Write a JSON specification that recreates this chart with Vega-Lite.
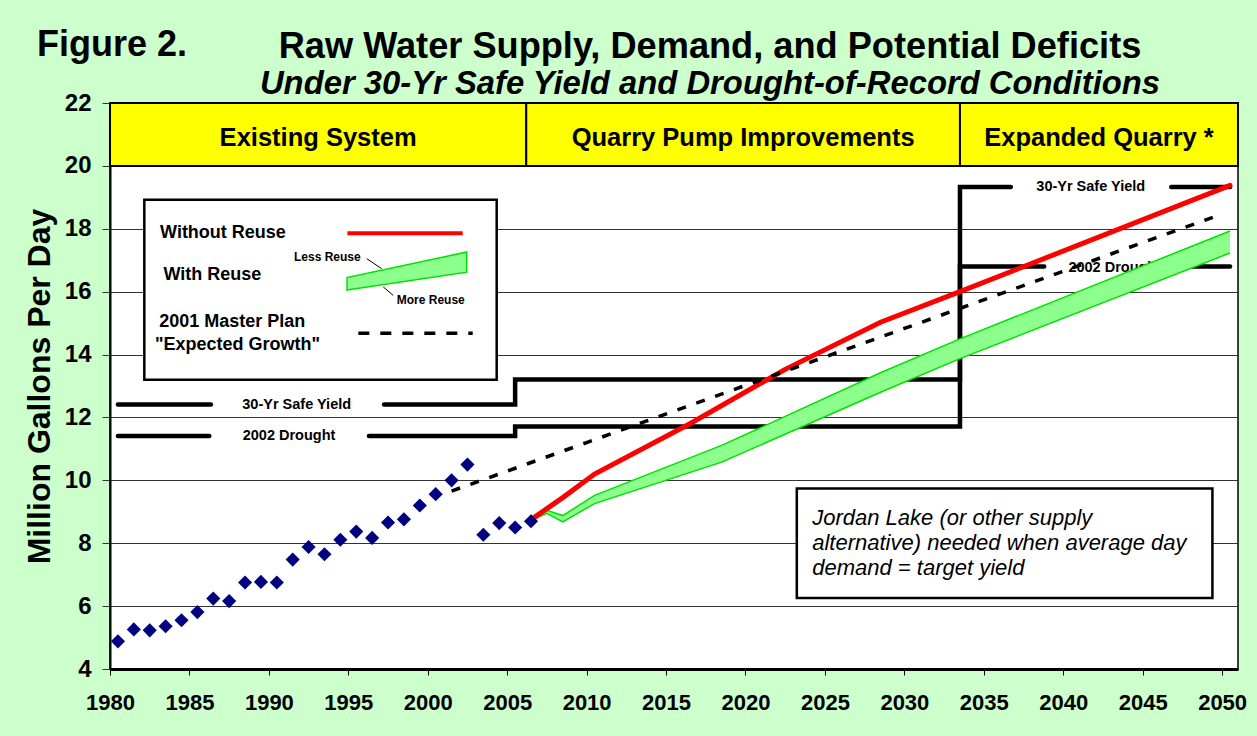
{
  "$schema": "https://vega.github.io/schema/vega-lite/v6.json",
  "width": 1128,
  "height": 566,
  "autosize": "none",
  "padding": {"left": 110, "top": 103, "right": 19, "bottom": 67},
  "background": "#CCFFCC",
  "config": {
    "font": "Liberation Sans",
    "view": {"fill": "white", "stroke": "black", "strokeWidth": 1.5}
  },
  "title": {
    "text": "Raw Water Supply, Demand, and Potential Deficits",
    "subtitle": "Under 30-Yr Safe Yield and Drought-of-Record Conditions",
    "anchor": "middle",
    "frame": "group",
    "dx": 36,
    "offset": -74,
    "font": "Liberation Sans",
    "fontSize": 36.2,
    "fontWeight": "bold",
    "color": "black",
    "subtitleFont": "Liberation Sans",
    "subtitleFontSize": 32.8,
    "subtitleFontWeight": "bold",
    "subtitleFontStyle": "italic",
    "subtitleColor": "black",
    "subtitlePadding": 3
  },
  "datasets": {
    "phases": [
      {"phase": "Existing System", "start": 1980, "end": 2006.2, "mid": 1993.1},
      {"phase": "Quarry Pump Improvements", "start": 2006.2, "end": 2033.5, "mid": 2019.85},
      {"phase": "Expanded Quarry *", "start": 2033.5, "end": 2051, "mid": 2042.25}
    ],
    "steps": [
      {"seg": "sy1", "i": 1, "year": 1980.5, "mgd": 12.41},
      {"seg": "sy1", "i": 2, "year": 1986.35, "mgd": 12.41},
      {"seg": "sy2", "i": 1, "year": 1997.25, "mgd": 12.41},
      {"seg": "sy2", "i": 2, "year": 2005.5, "mgd": 12.41},
      {"seg": "sy2", "i": 3, "year": 2005.5, "mgd": 13.21},
      {"seg": "sy2", "i": 4, "year": 2033.5, "mgd": 13.21},
      {"seg": "sy2", "i": 5, "year": 2033.5, "mgd": 19.33},
      {"seg": "sy2", "i": 6, "year": 2036.7, "mgd": 19.33},
      {"seg": "sy3", "i": 1, "year": 2046.8, "mgd": 19.33},
      {"seg": "sy3", "i": 2, "year": 2050.5, "mgd": 19.33},
      {"seg": "dr1", "i": 1, "year": 1980.5, "mgd": 11.41},
      {"seg": "dr1", "i": 2, "year": 1986.25, "mgd": 11.41},
      {"seg": "dr2", "i": 1, "year": 1996.3, "mgd": 11.41},
      {"seg": "dr2", "i": 2, "year": 2005.5, "mgd": 11.41},
      {"seg": "dr2", "i": 3, "year": 2005.5, "mgd": 11.71},
      {"seg": "dr2", "i": 4, "year": 2033.5, "mgd": 11.71},
      {"seg": "dr2", "i": 5, "year": 2033.5, "mgd": 16.8},
      {"seg": "dr2", "i": 6, "year": 2038.8, "mgd": 16.8},
      {"seg": "dr3", "i": 1, "year": 2048.1, "mgd": 16.8},
      {"seg": "dr3", "i": 2, "year": 2050.5, "mgd": 16.8}
    ],
    "steplabels": [
      {"label": "30-Yr Safe Yield", "year": 1991.75, "mgd": 12.41},
      {"label": "2002 Drought", "year": 1991.27, "mgd": 11.41},
      {"label": "30-Yr Safe Yield", "year": 2041.73, "mgd": 19.33},
      {"label": "2002 Drought", "year": 2043.24, "mgd": 16.75}
    ],
    "withreuse": [
      {"year": 2006.5, "more": 8.72, "less": 8.72},
      {"year": 2007.5, "more": 8.95, "less": 9.05},
      {"year": 2008.5, "more": 8.68, "less": 8.88},
      {"year": 2010.5, "more": 9.26, "less": 9.52},
      {"year": 2018.5, "more": 10.58, "less": 11.11},
      {"year": 2028.5, "more": 12.8, "less": 13.42},
      {"year": 2033.5, "more": 13.87, "less": 14.5},
      {"year": 2050.5, "more": 17.23, "less": 17.93}
    ],
    "without": [
      {"year": 2006.5, "mgd": 8.75},
      {"year": 2007.5, "mgd": 9.1},
      {"year": 2008.5, "mgd": 9.45},
      {"year": 2010.5, "mgd": 10.2},
      {"year": 2016.5, "mgd": 11.8},
      {"year": 2022.5, "mgd": 13.53},
      {"year": 2028.5, "mgd": 15.03},
      {"year": 2033.5, "mgd": 16.0},
      {"year": 2050.5, "mgd": 19.38}
    ],
    "plan": [
      {"year": 2001.5, "mgd": 9.66},
      {"year": 2010, "mgd": 11.2},
      {"year": 2020, "mgd": 13.02},
      {"year": 2030, "mgd": 14.83},
      {"year": 2040, "mgd": 16.65},
      {"year": 2050, "mgd": 18.47}
    ],
    "history": [
      {"year": 1980.5, "mgd": 4.88},
      {"year": 1981.5, "mgd": 5.26},
      {"year": 1982.5, "mgd": 5.23},
      {"year": 1983.5, "mgd": 5.36},
      {"year": 1984.5, "mgd": 5.55},
      {"year": 1985.5, "mgd": 5.81},
      {"year": 1986.5, "mgd": 6.24},
      {"year": 1987.5, "mgd": 6.16},
      {"year": 1988.5, "mgd": 6.75},
      {"year": 1989.5, "mgd": 6.77},
      {"year": 1990.5, "mgd": 6.75},
      {"year": 1991.5, "mgd": 7.48},
      {"year": 1992.5, "mgd": 7.88},
      {"year": 1993.5, "mgd": 7.65},
      {"year": 1994.5, "mgd": 8.11},
      {"year": 1995.5, "mgd": 8.37},
      {"year": 1996.5, "mgd": 8.17},
      {"year": 1997.5, "mgd": 8.66},
      {"year": 1998.5, "mgd": 8.76},
      {"year": 1999.5, "mgd": 9.2},
      {"year": 2000.5, "mgd": 9.56},
      {"year": 2001.5, "mgd": 10.0},
      {"year": 2002.5, "mgd": 10.5},
      {"year": 2003.5, "mgd": 8.27},
      {"year": 2004.5, "mgd": 8.64},
      {"year": 2005.5, "mgd": 8.5},
      {"year": 2006.5, "mgd": 8.7}
    ],
    "legendbox": [{"year": 1982.16, "year2": 2004.34, "mgd": 18.925, "mgd2": 13.2}],
    "legendlabels": [
      {"label": "Without Reuse", "year": 1983.15, "mgd": 17.86},
      {"label": "With Reuse", "year": 1983.36, "mgd": 16.52},
      {"label": "2001 Master Plan", "year": 1983.1, "mgd": 15.03},
      {"label": "\"Expected Growth\"", "year": 1982.83, "mgd": 14.29}
    ],
    "legendsmall": [
      {"label": "Less Reuse", "year": 1991.58, "mgd": 17.1},
      {"label": "More Reuse", "year": 1998.05, "mgd": 15.75}
    ],
    "legendred": [{"year": 1994.94, "mgd": 17.86}, {"year": 2002.2, "mgd": 17.86}],
    "legenddash": [{"year": 1995.63, "mgd": 14.68}, {"year": 2002.83, "mgd": 14.68}],
    "legendgreen": [
      {"year": 1994.92, "more": 16.05, "less": 16.45},
      {"year": 2002.45, "more": 16.62, "less": 17.26}
    ],
    "leaders": [
      {"year": 1996.16, "mgd": 17.05, "year2": 1997.1, "mgd2": 16.73},
      {"year": 1997.2, "mgd": 16.15, "year2": 1997.83, "mgd2": 15.88}
    ],
    "notebox": [{"year": 2023.23, "year2": 2049.39, "mgd": 9.74, "mgd2": 6.26}],
    "note": [{"label": "Jordan Lake (or other supply\nalternative) needed when average day\ndemand = target yield", "year": 2024.2, "mgd": 8.79}],
    "figlabel": [{"label": "Figure 2.", "year": 1975.4, "mgd": 23.86}]
  },
  "layer": [
    {
      "data": {"name": "phases"},
      "mark": {"type": "rect", "fill": "#FFFF00", "stroke": "black", "strokeWidth": 2},
      "encoding": {
        "x": {"field": "start", "type": "quantitative", "scale": {"domain": [1980, 2051], "nice": false, "zero": false}},
        "x2": {"field": "end"},
        "y": {"datum": 20, "type": "quantitative", "scale": {"domain": [4, 22], "nice": false, "zero": false}},
        "y2": {"datum": 22}
      }
    },
    {
      "data": {"name": "phases"},
      "mark": {"type": "text", "fontSize": 25.5, "fontWeight": "bold", "color": "black", "align": "center", "baseline": "middle"},
      "encoding": {
        "x": {"field": "mid", "type": "quantitative"},
        "y": {"datum": 20.9, "type": "quantitative"},
        "text": {"field": "phase"}
      }
    },
    {
      "data": {"name": "steps"},
      "mark": {"type": "line", "color": "black", "strokeWidth": 4.5, "strokeCap": "round"},
      "encoding": {
        "x": {"field": "year", "type": "quantitative"},
        "y": {"field": "mgd", "type": "quantitative"},
        "detail": {"field": "seg"},
        "order": {"field": "i"}
      }
    },
    {
      "data": {"name": "steplabels"},
      "mark": {"type": "text", "fontSize": 14.5, "fontWeight": "bold", "color": "black", "align": "center", "baseline": "middle"},
      "encoding": {
        "x": {"field": "year", "type": "quantitative"},
        "y": {"field": "mgd", "type": "quantitative"},
        "text": {"field": "label"}
      }
    },
    {
      "data": {"name": "withreuse"},
      "mark": {"type": "area", "color": "#8CFF8C", "opacity": 1},
      "encoding": {
        "x": {"field": "year", "type": "quantitative"},
        "y": {"field": "more", "type": "quantitative"},
        "y2": {"field": "less"}
      }
    },
    {
      "data": {"name": "withreuse"},
      "mark": {"type": "line", "color": "#00E000", "strokeWidth": 1.5},
      "encoding": {
        "x": {"field": "year", "type": "quantitative"},
        "y": {"field": "more", "type": "quantitative"}
      }
    },
    {
      "data": {"name": "withreuse"},
      "mark": {"type": "line", "color": "#00E000", "strokeWidth": 1.5},
      "encoding": {
        "x": {"field": "year", "type": "quantitative"},
        "y": {"field": "less", "type": "quantitative"}
      }
    },
    {
      "data": {"name": "without"},
      "mark": {"type": "line", "color": "#FF0000", "strokeWidth": 5, "strokeCap": "round"},
      "encoding": {
        "x": {"field": "year", "type": "quantitative"},
        "y": {"field": "mgd", "type": "quantitative"}
      }
    },
    {
      "data": {"name": "plan"},
      "mark": {"type": "line", "color": "black", "strokeWidth": 3.5, "strokeDash": [9, 11]},
      "encoding": {
        "x": {"field": "year", "type": "quantitative"},
        "y": {"field": "mgd", "type": "quantitative"}
      }
    },
    {
      "data": {"name": "history"},
      "mark": {"type": "point", "shape": "diamond", "filled": true, "color": "#000080", "size": 200, "opacity": 1},
      "encoding": {
        "x": {
          "field": "year", "type": "quantitative",
          "scale": {"domain": [1980, 2051], "nice": false, "zero": false},
          "axis": {
            "values": [1980, 1985, 1990, 1995, 2000, 2005, 2010, 2015, 2020, 2025, 2030, 2035, 2040, 2045, 2050],
            "format": "d",
            "title": null,
            "grid": false,
            "labelFont": "Liberation Sans",
            "labelFontSize": 22,
            "labelFontWeight": "bold",
            "labelColor": "black",
            "labelFlush": false,
            "labelOverlap": false,
            "labelPadding": 17,
            "tickSize": 6,
            "tickColor": "black",
            "domainColor": "black",
            "domainWidth": 3
          }
        },
        "y": {
          "field": "mgd", "type": "quantitative",
          "scale": {"domain": [4, 22], "nice": false, "zero": false},
          "axis": {
            "values": [4, 6, 8, 10, 12, 14, 16, 18, 20, 22],
            "title": "Million Gallons Per Day",
            "titleFont": "Liberation Sans",
            "titleFontSize": 32,
            "titleFontWeight": "bold",
            "titleColor": "black",
            "titlePadding": 8,
            "grid": true,
            "gridColor": "#333333",
            "gridWidth": 1,
            "labelFont": "Liberation Sans",
            "labelFontSize": 24,
            "labelFontWeight": "bold",
            "labelColor": "black",
            "labelPadding": 11,
            "labelOverlap": false,
            "tickSize": 8,
            "tickColor": "#333333",
            "domainColor": "black",
            "domainWidth": 2
          }
        }
      }
    },
    {
      "data": {"name": "legendbox"},
      "mark": {"type": "rect", "fill": "white", "stroke": "black", "strokeWidth": 2.5},
      "encoding": {
        "x": {"field": "year", "type": "quantitative"},
        "x2": {"field": "year2"},
        "y": {"field": "mgd", "type": "quantitative"},
        "y2": {"field": "mgd2"}
      }
    },
    {
      "data": {"name": "legendlabels"},
      "mark": {"type": "text", "fontSize": 18, "fontWeight": "bold", "color": "black", "align": "left", "baseline": "middle"},
      "encoding": {
        "x": {"field": "year", "type": "quantitative"},
        "y": {"field": "mgd", "type": "quantitative"},
        "text": {"field": "label"}
      }
    },
    {
      "data": {"name": "legendsmall"},
      "mark": {"type": "text", "fontSize": 12, "fontWeight": "bold", "color": "black", "align": "left", "baseline": "middle"},
      "encoding": {
        "x": {"field": "year", "type": "quantitative"},
        "y": {"field": "mgd", "type": "quantitative"},
        "text": {"field": "label"}
      }
    },
    {
      "data": {"name": "legendred"},
      "mark": {"type": "line", "color": "#FF0000", "strokeWidth": 4},
      "encoding": {
        "x": {"field": "year", "type": "quantitative"},
        "y": {"field": "mgd", "type": "quantitative"}
      }
    },
    {
      "data": {"name": "legendgreen"},
      "mark": {"type": "area", "color": "#8CFF8C", "opacity": 1, "stroke": "#00E000", "strokeWidth": 1.5},
      "encoding": {
        "x": {"field": "year", "type": "quantitative"},
        "y": {"field": "more", "type": "quantitative"},
        "y2": {"field": "less"}
      }
    },
    {
      "data": {"name": "leaders"},
      "mark": {"type": "rule", "color": "black", "strokeWidth": 1},
      "encoding": {
        "x": {"field": "year", "type": "quantitative"},
        "y": {"field": "mgd", "type": "quantitative"},
        "x2": {"field": "year2"},
        "y2": {"field": "mgd2"}
      }
    },
    {
      "data": {"name": "legenddash"},
      "mark": {"type": "line", "color": "black", "strokeWidth": 3.5, "strokeDash": [11, 11]},
      "encoding": {
        "x": {"field": "year", "type": "quantitative"},
        "y": {"field": "mgd", "type": "quantitative"}
      }
    },
    {
      "data": {"name": "notebox"},
      "mark": {"type": "rect", "fill": "white", "stroke": "black", "strokeWidth": 2.5},
      "encoding": {
        "x": {"field": "year", "type": "quantitative"},
        "x2": {"field": "year2"},
        "y": {"field": "mgd", "type": "quantitative"},
        "y2": {"field": "mgd2"}
      }
    },
    {
      "data": {"name": "note"},
      "mark": {"type": "text", "fontSize": 22, "fontStyle": "italic", "color": "black", "align": "left", "baseline": "middle", "lineBreak": "\n", "lineHeight": 25},
      "encoding": {
        "x": {"field": "year", "type": "quantitative"},
        "y": {"field": "mgd", "type": "quantitative"},
        "text": {"field": "label"}
      }
    },
    {
      "data": {"name": "figlabel"},
      "mark": {"type": "text", "fontSize": 36, "fontWeight": "bold", "color": "black", "align": "left", "baseline": "middle"},
      "encoding": {
        "x": {"field": "year", "type": "quantitative"},
        "y": {"field": "mgd", "type": "quantitative"},
        "text": {"field": "label"}
      }
    }
  ]
}
